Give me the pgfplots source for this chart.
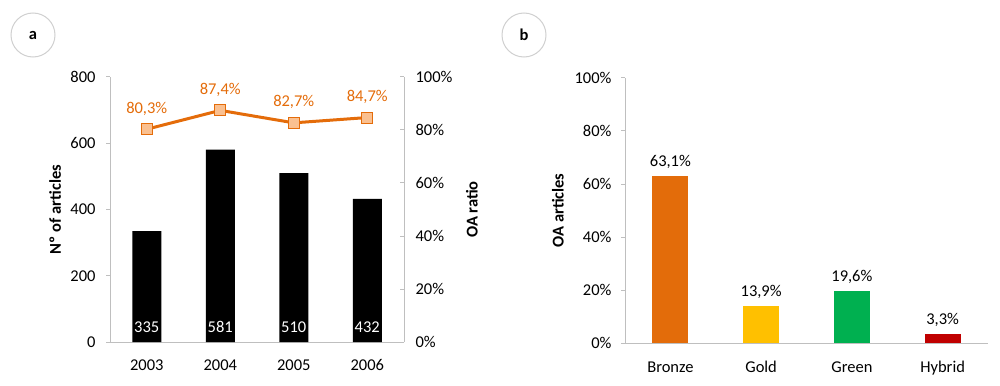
\documentclass[border=0pt]{standalone}
\usepackage{fontspec}
\setmainfont{Carlito}
\usepackage{pgfplots}
\pgfplotsset{compat=1.18}
\definecolor{axgray}{HTML}{BFBFBF}
\definecolor{circgray}{HTML}{D0D0D0}
\definecolor{oaorange}{HTML}{E46C0A}
\definecolor{markfill}{HTML}{FAC090}
\definecolor{bronze}{HTML}{E36C0A}
\definecolor{gold}{HTML}{FFC000}
\definecolor{green}{HTML}{00B050}
\definecolor{hybrid}{HTML}{C00000}
\newcommand{\fs}{\fontsize{16.5bp}{19bp}\selectfont}
\pgfplotsset{
  common/.style={
    scale only axis,
    /pgf/number format/assume math mode=true,
    tick label style={font=\fs, black},
    label style={font=\bfseries\fs, black},
    axis line style={axgray, line width=1bp},
    major tick length=4bp,
    tick style={axgray, line width=1bp},
    major x tick style={draw=none},
    xmin=-0.5, xmax=3.5,
    xtick={0,1,2,3},
    tick align=outside,
  }
}
\begin{document}
\begin{tikzpicture}[x=1bp,y=1bp]
\useasboundingbox (0,0) rectangle (1000,385);
% panel labels
\draw[circgray, line width=1bp] (33,350) circle (22);
\node[font=\bfseries\fs] at (33,350) {a};
\draw[circgray, line width=1bp] (524,350) circle (22);
\node[font=\bfseries\fs] at (524,350) {b};

% ---- panel a: bars
\begin{axis}[common,
  at={(110bp,43bp)}, anchor=south west,
  width=294bp, height=265bp,
  ymin=0, ymax=800, ytick={0,200,...,800},
  xticklabels={2003,2004,2005,2006},
  axis y line*=left, axis x line*=bottom,
  ylabel={Nº of articles},
  ylabel style={at={(axis description cs:-0.187,0.5)}, anchor=center},
  xticklabel style={yshift=-10bp},
  yticklabel style={xshift=-7bp},
]
\addplot[ybar, fill=black, draw=none, bar width=29bp] coordinates {(0,335) (1,581) (2,510) (3,432)};
\node[white, font=\fs] at (axis cs:0,45) {335};
\node[white, font=\fs] at (axis cs:1,45) {581};
\node[white, font=\fs] at (axis cs:2,45) {510};
\node[white, font=\fs] at (axis cs:3,45) {432};
\end{axis}

% ---- panel a: OA ratio line
\begin{axis}[common,
  at={(110bp,43bp)}, anchor=south west,
  width=294bp, height=265bp,
  ymin=0, ymax=100, ytick={0,20,...,100},
  yticklabel={\pgfmathprintnumber{\tick}\%},
  axis y line*=right, axis x line=none,
  tick align=inside,
  ylabel={OA ratio},
  ylabel style={at={(axis description cs:1.231,0.5)}, anchor=center},
  yticklabel style={xshift=8bp},
  clip=false,
]
\addplot[color=oaorange, line width=3bp, mark=square*, mark size=5.5bp,
  mark options={fill=markfill, draw=oaorange, line width=1bp},
  nodes near coords, point meta=explicit symbolic,
  nodes near coords style={oaorange, anchor=south, yshift=10bp, font=\fs}]
  coordinates {(0,80.3)[80,3\%] (1,87.4)[87,4\%] (2,82.7)[82,7\%] (3,84.7)[84,7\%]};
\end{axis}

% ---- panel b
\begin{axis}[common,
  at={(625bp,42bp)}, anchor=south west,
  width=363bp, height=265bp,
  ymin=0, ymax=100, ytick={0,20,...,100},
  yticklabel={\pgfmathprintnumber{\tick}\%},
  xticklabels={Bronze,Gold,Green,Hybrid},
  axis y line*=left, axis x line*=bottom,
  ylabel={OA articles},
  ylabel style={at={(axis description cs:-0.185,0.5)}, anchor=center},
  xticklabel style={yshift=-11bp},
  yticklabel style={xshift=-6bp},
  nodes near coords, point meta=explicit symbolic,
  nodes near coords style={black, anchor=south, yshift=4bp, font=\fs},
]
\addplot[ybar, bar shift=0pt, bar width=36bp, fill=bronze, draw=none] coordinates {(0,63.1)[63,1\%]};
\addplot[ybar, bar shift=0pt, bar width=36bp, fill=gold, draw=none] coordinates {(1,13.9)[13,9\%]};
\addplot[ybar, bar shift=0pt, bar width=36bp, fill=green, draw=none] coordinates {(2,19.6)[19,6\%]};
\addplot[ybar, bar shift=0pt, bar width=36bp, fill=hybrid, draw=none] coordinates {(3,3.3)[3,3\%]};
\end{axis}
\end{tikzpicture}
\end{document}
